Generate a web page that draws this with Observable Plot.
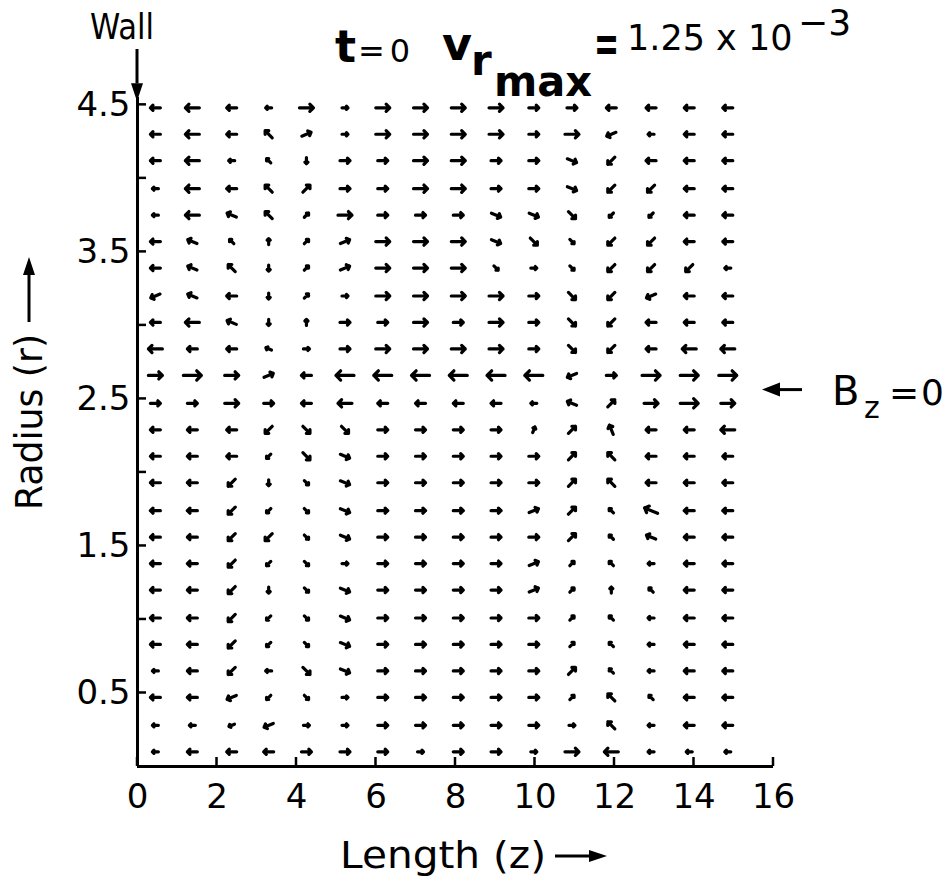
<!DOCTYPE html>
<html>
<head>
<meta charset="utf-8">
<script src="https://cdn.jsdelivr.net/npm/d3@7"></script>
<script src="https://cdn.jsdelivr.net/npm/@observablehq/plot@0.6"></script>
<style>
  body { margin: 0; background: #fff; }
  #fig { position: relative; width: 949px; height: 878px; background: #fff; }
  #fig svg { position: absolute; left: 0; top: 0; }
  #fig svg.notes { pointer-events: none; }
</style>
</head>
<body>
<div id="fig"></div>
<script>
// Axial grid positions (z) and radial grid positions (r) of the velocity field.
const zGrid = [0.45, 1.38, 2.37, 3.30, 4.25, 5.22, 6.17, 7.12, 8.07, 9.02, 9.97, 10.93, 11.92, 12.92, 13.88, 14.85];
const rGrid = [4.48, 4.30, 4.12, 3.93, 3.75, 3.57, 3.39, 3.20, 3.02, 2.84, 2.66, 2.47, 2.29,
               2.11, 1.93, 1.74, 1.56, 1.38, 1.20, 1.01, 0.83, 0.65, 0.47, 0.28, 0.10];

// One row per radius, top to bottom: direction of the (v_z, v_r) vector and its
// magnitude in tenths of v_r max.
const fieldRows = [
  "W5 W7 W5 W3 E7 E3 E7 E7 E7 E7 E5 E5 W5 W5 W5 W5",
  "W5 W7 W5 NW5 ENE5 E3 E7 E7 E7 E7 E5 E7 WSW5 W3 W5 W5",
  "W5 W7 W3 NW3 S3 E5 E5 E7 E7 E5 E5 ESE5 SW5 W5 W5 W5",
  "W3 W7 W5 NW5 NE5 E5 E5 E7 E7 E5 E5 ESE5 SW5 SW5 W5 W5",
  "W3 W7 WNW5 NW5 NE3 E7 E5 E5 E5 ESE5 ESE5 SE5 SW3 SW3 W5 W5",
  "W5 WNW5 NW3 N3 NE3 ENE5 E7 E7 E7 ESE5 SE5 SE3 SW5 SW5 W5 W5",
  "W5 WNW5 NW5 S3 NE3 ENE5 E7 E7 E7 SE3 E3 SE3 SW5 SW5 SW5 W3",
  "WSW5 WNW5 W5 S3 NE3 E3 E7 E7 E7 E7 E5 SE5 SW5 WSW5 W5 W5",
  "W5 W7 WNW5 S3 N3 E5 E5 E7 E5 E7 E5 SE5 SW5 W5 W5 W5",
  "W7 W5 W5 WNW3 E3 E5 E7 E7 E7 E7 E5 SE5 SW5 W5 W7 W7",
  "E7 E9 E7 ENE5 W5 W9 W9 W9 W9 W9 W9 WSW5 E5 E9 E9 E9",
  "E5 E5 E7 E5 W5 W7 W5 W5 W5 W5 W3 WNW5 NE5 E7 E9 E7",
  "W5 W5 W5 SW5 SE5 SE5 E5 E5 E5 E5 NNE3 NE5 NNW5 W5 W5 W7",
  "W5 W5 W5 SW3 SE5 ESE5 E5 E5 E5 E5 E5 NE5 NW5 W5 W5 W5",
  "W5 W5 SW5 S3 SE3 ESE5 E5 E5 E5 E5 E5 NE5 NW5 W5 W5 W5",
  "W5 W5 SW5 SW3 SE3 ESE5 E5 E5 E5 E5 ENE5 NE5 NW3 WNW7 W5 W5",
  "W5 W5 SW5 SW5 SE3 ESE5 E5 E5 E5 E5 E5 NE5 NW3 WNW5 W5 W5",
  "W5 W5 SW5 SW3 SE3 E3 E5 E5 E5 E5 ENE5 NE3 NW3 W3 W5 W5",
  "W5 W5 SW5 S3 SE3 ESE5 E5 E5 E5 E5 ENE5 NE3 N3 NW3 W5 W5",
  "W5 W5 SW5 SW3 SE3 ESE5 E5 E5 E5 E5 E5 NE3 NW3 W3 W5 W5",
  "W5 W5 SW5 SW3 SE3 ESE5 E5 E5 E5 E5 E5 NE3 NW3 W3 W5 W5",
  "W3 W5 SW5 W3 SE5 ESE5 E5 E5 E5 E5 E5 NE5 NW3 W3 W5 W5",
  "W5 W5 WSW5 SW3 SE3 E3 E5 E5 E5 E5 E5 NE3 NW5 NW3 W5 W5",
  "W3 W3 WSW3 WSW5 E3 E3 E5 E5 E5 E5 E5 E3 NW5 W3 W5 W5",
  "W3 W5 W5 W5 E5 E5 E5 E3 E5 E5 E3 E7 W7 W3 W3 W3"
];

// Axis ticks and labels.
const zTicks = [0, 2, 4, 6, 8, 10, 12, 14, 16];
const rTicks = [0.5, 1, 1.5, 2, 2.5, 3, 3.5, 4, 4.5];
const rLabels = [0.5, 1.5, 2.5, 3.5, 4.5];

// Annotations.
const wallZ = 0;
const bzZeroR = 2.56;
const timeLabel = "0";
const vrMaxMantissa = "1.25 x 10";
const vrMaxExponent = "\u22123";

// Compass direction -> clockwise angle from up (r increasing).
const compass = {N: 0, NNE: 22.5, NE: 45, ENE: 67.5, E: 90, ESE: 112.5, SE: 135, SSE: 157.5,
                 S: 180, SSW: 202.5, SW: 225, WSW: 247.5, W: 270, WNW: 292.5, NW: 315, NNW: 337.5};

const field = fieldRows.flatMap((row, j) =>
  row.trim().split(/\s+/).map((tok, i) => {
    const m = tok.match(/^([A-Z]+)(\d+)$/);
    return {z: zGrid[i], r: rGrid[j], angle: compass[m[1]], speed: +m[2]};
  })
);

const font = "'DejaVu Sans', 'Liberation Sans', sans-serif";

const chart = Plot.plot({
  width: 949,
  height: 878,
  marginLeft: 137,
  marginRight: 176,
  marginTop: 97,
  marginBottom: 112,
  x: {domain: [0, 16]},
  y: {domain: [0, 4.55]},
  length: {domain: [0, 10], range: [0, 20]},
  style: {fontFamily: font, fontSize: "34px", color: "black", background: "white", overflow: "visible"},
  marks: [
    Plot.axisX(zTicks, {tickSize: 0, tickPadding: 17, label: null, fontSize: 34,
                        tickFormat: d => String(d)}),
    Plot.axisY(rLabels, {tickSize: 0, tickPadding: 7, label: null, fontSize: 34,
                         tickFormat: d => d.toFixed(1)}),
    Plot.ruleX([0], {strokeWidth: 3}),
    Plot.ruleY([0], {strokeWidth: 3}),
    Plot.vector(field, {
      x: "z", y: "r", rotate: "angle", length: "speed",
      anchor: "middle", shape: "arrow", r: 4.5,
      stroke: "black", strokeWidth: 3.2
    })
  ]
});

const fig = document.getElementById("fig");
fig.appendChild(chart);

const xs = chart.scale("x").apply;
const ys = chart.scale("y").apply;

// Text, inward ticks and pointers around the frame.
const notes = d3.select(fig).append("svg")
  .attr("class", "notes")
  .attr("width", 949).attr("height", 878)
  .style("font-family", font);

const tickLen = 9;
const x0 = xs(0), y0 = ys(0);
notes.append("g").attr("stroke", "black").attr("stroke-width", 2.5)
  .selectAll("line").data(zTicks).join("line")
  .attr("x1", d => xs(d)).attr("x2", d => xs(d))
  .attr("y1", y0).attr("y2", y0 - tickLen);
notes.append("g").attr("stroke", "black").attr("stroke-width", 2.5)
  .selectAll("line").data(rTicks).join("line")
  .attr("y1", d => ys(d)).attr("y2", d => ys(d))
  .attr("x1", x0).attr("x2", x0 + tickLen);

function pointer(x1, y1, x2, y2, head = 17, half = 7) {
  const dx = x2 - x1, dy = y2 - y1, len = Math.hypot(dx, dy);
  const ux = dx / len, uy = dy / len;
  const bx = x2 - ux * head, by = y2 - uy * head;
  notes.append("line")
    .attr("x1", x1).attr("y1", y1).attr("x2", bx).attr("y2", by)
    .attr("stroke", "black").attr("stroke-width", 3);
  notes.append("polygon")
    .attr("points", [[x2, y2], [bx - uy * half, by + ux * half], [bx + uy * half, by - ux * half]].map(p => p.join(",")).join(" "))
    .attr("fill", "black");
}

// Wall marker at z = 0
const wx = xs(wallZ);
notes.append("text").attr("x", wx - 15).attr("y", 39).attr("text-anchor", "middle")
  .attr("font-size", 36).attr("textLength", 64).attr("lengthAdjust", "spacingAndGlyphs").text("Wall");
pointer(wx, 49, wx, ys(4.5) - 3, 18, 6);

// Title: t = 0, v_r max = 1.25 x 10^-3
notes.append("text").attr("x", 335).attr("y", 62).attr("font-size", 44).attr("font-weight", "bold").text("t");
notes.append("text").attr("x", 358).attr("y", 62).attr("font-size", 32)
  .attr("textLength", 52).attr("lengthAdjust", "spacing").text("=" + timeLabel);
notes.append("text").attr("x", 442).attr("y", 60).attr("font-size", 46).attr("font-weight", "bold").text("v");
notes.append("text").attr("x", 471).attr("y", 75).attr("font-size", 42).attr("font-weight", "bold").text("r");
notes.append("text").attr("x", 494).attr("y", 96).attr("font-size", 42).attr("font-weight", "bold")
  .attr("textLength", 98).attr("lengthAdjust", "spacingAndGlyphs").text("max");
notes.append("text").attr("x", 594).attr("y", 61).attr("font-size", 30).attr("font-weight", "bold")
  .attr("transform", "translate(594,61) scale(1,1.7) translate(-594,-61)").text("=");
notes.append("text").attr("x", 627).attr("y", 50).attr("font-size", 35).text(vrMaxMantissa);
notes.append("text").attr("x", 798).attr("y", 35).attr("font-size", 36).text(vrMaxExponent);

// B_z = 0 marker on the right
const by0 = ys(bzZeroR);
pointer(802, by0, xs(16) - 11, by0, 18, 7);
notes.append("text").attr("x", 832).attr("y", by0 + 15).attr("font-size", 40).text("B");
notes.append("text").attr("x", 864).attr("y", by0 + 28).attr("font-size", 30).text("z");
notes.append("text").attr("x", 889).attr("y", by0 + 15).attr("font-size", 36).text("=");
notes.append("text").attr("x", 921).attr("y", by0 + 15).attr("font-size", 36).text("0");

// Axis titles with arrows
notes.append("text").attr("transform", "translate(42,510) rotate(-90)")
  .attr("font-size", 37).attr("textLength", 176).attr("lengthAdjust", "spacingAndGlyphs").text("Radius (r)");
pointer(29, 322, 29, 257, 18, 6);
notes.append("text").attr("x", 340).attr("y", 868).attr("font-size", 38)
  .attr("textLength", 206).attr("lengthAdjust", "spacingAndGlyphs").text("Length (z)");
pointer(555, 856, 607, 856, 18, 6);
</script>
</body>
</html>
